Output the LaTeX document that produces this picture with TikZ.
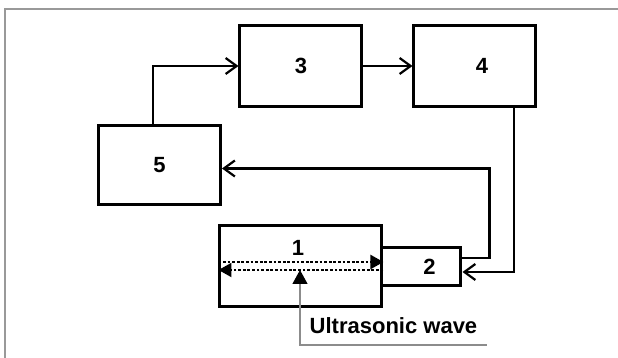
\documentclass[tikz,border=0pt]{standalone}
\usepackage{fontspec}
\setmainfont{Liberation Sans}
\usetikzlibrary{arrows.meta, positioning}

\begin{document}
\begin{tikzpicture}[x=0.5pt, y=-0.5pt, >={Straight Barb[length=5.5pt,width=8pt]},
			font=\fontsize{11}{13}\selectfont\bfseries,
			blocco/.style={draw, line width=1.5pt, minimum width=61pt, minimum height=40.5pt},
			conn/.style={->, line width=1.1pt},
			onda/.style={draw, dash pattern=on 1.4pt off 0.9pt, line width=1pt, -{Triangle[length=6.5pt,width=7pt]}}]
			
			\useasboundingbox (0,0) rectangle (618,358);
			% Cornice
			\draw[gray!80, line width=0.6pt] (5,358) -- (5,9) -- (618,9);
			
			% Blocchi
			\node[blocco] (3) at (301,66) {3};
			\node[blocco] (4) at (475,66) {\hspace{7pt}4};
			\node[blocco, minimum height=39.5pt] (5) at (159.5,165.5) {5};
			\node[blocco, minimum width=81pt] (1) at (301,266.5) {};
			\node[blocco, minimum width=39.5pt, minimum height=19pt] (2) at (421.5,267) {\hspace{8pt}2};
			\node (l1) at (298,248) {1};
			
			% Collegamenti
			\draw[conn] ([xshift=-3.25pt]5.north) |- (3.west);
			\draw[conn] (3.east) -- (4.west);
			\draw[conn] ([xshift=19.5pt]4.south) |- ([yshift=-2.5pt]2.east);
			\draw[conn] ([yshift=4.5pt]2.east) -- ++(27,0) |- ([yshift=-1.5pt]5.east);
			
			% Onda ultrasonica
			\draw[onda] ([yshift=2.25pt]1.west) -- ([yshift=2.25pt]1.east);
			\draw[onda] ([yshift=-1.75pt]1.east) -- ([yshift=-1.75pt]1.west);
			\node (wave) at (393.5,326) {Ultrasonic wave};
			\coordinate (fine) at (487,345);
			\coordinate (punta) at (300,270);
			\draw[gray!90, line width=0.6pt, -{Triangle[black,length=7pt,width=7.5pt]}] (fine) -| (punta);
			
		\end{tikzpicture}
\end{document}
